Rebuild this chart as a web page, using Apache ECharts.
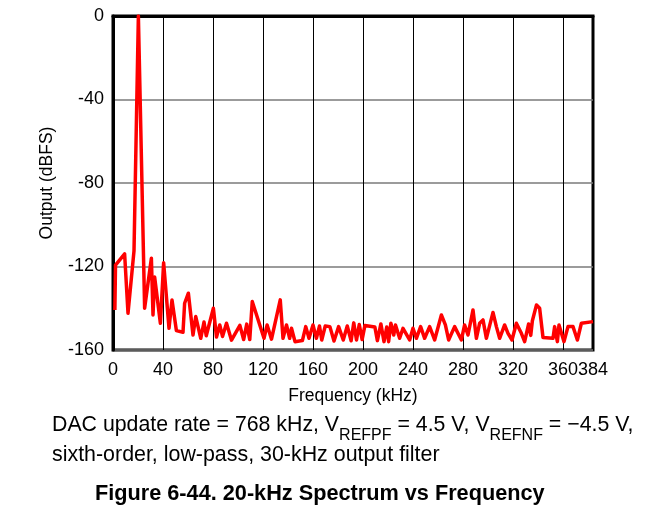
<!DOCTYPE html>
<html>
<head>
<meta charset="utf-8">
<script src="https://cdn.jsdelivr.net/npm/echarts@6/dist/echarts.min.js"></script>
<style>
  html, body { margin: 0; padding: 0; background: #fff; }
  #chart { width: 653px; height: 513px; }
</style>
</head>
<body>
<div id="chart"></div>
<script>
// Output spectrum of a 20-kHz tone: frequency (kHz) and level (dBFS)
const freqs = [
  1.5, 2.0, 9.3, 12.0, 13.5, 16.8, 20.3, 25.3, 30.7, 32.0, 33.3, 37.9, 40.5, 44.8, 47.2, 50.7,
  56.0, 57.3, 60.3, 64.0, 66.2, 70.2, 72.8, 74.6, 80.3, 82.8, 85.4, 87.6, 90.8, 94.8,
  101.5, 104.5, 107.0, 109.4, 111.4, 120.8, 123.3, 126.8, 133.8, 136.0, 138.8, 141.3, 142.8, 145.6,
  151.5, 154.2, 156.8, 160.0, 162.7, 165.2, 167.0, 169.8, 173.5, 176.8, 180.5, 184.2, 187.4, 190.5,
  192.6, 194.8, 197.0, 199.3, 201.5, 209.5, 211.5, 214.3, 216.8, 219.0, 220.5, 222.3, 224.6, 226.0,
  229.3, 232.0, 237.3, 240.0, 242.7, 246.1, 249.3, 253.3, 257.3, 262.7, 265.9, 268.5, 273.3, 278.7,
  281.3, 284.0, 288.0, 290.7, 293.3, 296.0, 298.7, 304.0, 306.7, 309.3, 313.3, 316.0, 319.2, 322.7,
  326.7, 329.3, 332.5, 334.2, 335.5, 338.8, 341.3, 344.0, 352.0, 353.3, 355.5, 356.8, 360.8, 364.0,
  368.0, 371.5, 374.7, 376.0, 384.0
];
const levels = [
  -140.8, -119.3, -114.0, -142.4, -141.6, -112.5, 0, -140.0, -116.0, -143.2, -125.0, -147.2, -118.2, -149.6, -136.0, -150.7,
  -151.5, -137.6, -132.8, -152.8, -144.0, -154.4, -146.6, -153.2, -140.0, -153.8, -148.0, -153.5, -147.2, -155.3,
  -148.2, -155.0, -147.6, -155.0, -136.8, -154.4, -148.0, -154.8, -136.0, -154.4, -148.0, -154.4, -149.6, -156.0,
  -155.5, -148.8, -154.4, -148.0, -154.4, -148.5, -155.2, -148.5, -148.8, -155.7, -148.8, -155.2, -148.5, -155.6,
  -147.0, -155.2, -147.8, -155.0, -148.3, -149.0, -155.5, -147.5, -156.0, -149.0, -156.0, -147.2, -152.8, -148.0,
  -154.4, -149.6, -155.2, -149.6, -154.4, -148.8, -154.4, -148.8, -155.2, -143.2, -148.0, -155.2, -148.8, -155.2,
  -148.0, -152.8, -140.8, -154.4, -147.2, -145.6, -154.4, -142.0, -148.8, -154.4, -148.0, -152.0, -155.2, -147.2,
  -152.0, -156.0, -147.5, -153.0, -146.0, -138.4, -140.0, -154.0, -154.4, -148.8, -156.0, -148.0, -156.0, -148.8,
  -148.8, -155.2, -147.2, -146.4, -146.4
];

const xTitle = 'Frequency (kHz)';
const yTitle = 'Output (dBFS)';
const noteLine1 = 'DAC update rate = 768 kHz, V{s|REFPF} = 4.5 V, V{s|REFNF} = \u22124.5 V,';
const noteLine2 = 'sixth-order, low-pass, 30-kHz output filter';
const figTitle = 'Figure 6-44. 20-kHz Spectrum vs Frequency';

const FONT = '"Liberation Sans", Arial, sans-serif';
const points = freqs.map((f, i) => [f, levels[i]]);

const chart = echarts.init(document.getElementById('chart'), null, { renderer: 'canvas' });
chart.setOption({
  animation: false,
  backgroundColor: '#fff',
  grid: {
    left: 113, right: 60, top: 16, bottom: 163,
    show: true, borderColor: '#000', borderWidth: 3, backgroundColor: 'transparent'
  },
  xAxis: {
    type: 'value', min: 0, max: 384, interval: 40,
    name: xTitle, nameLocation: 'middle', nameGap: 37,
    nameTextStyle: { fontFamily: FONT, fontSize: 17.5, color: '#000' },
    axisLine: { show: true, lineStyle: { color: '#000', width: 3 } },
    axisTick: { show: false },
    axisLabel: { fontFamily: FONT, fontSize: 18, color: '#000', margin: 11, showMaxLabel: true, hideOverlap: false },
    splitLine: { show: true, lineStyle: { color: '#000', width: 1 } }
  },
  yAxis: {
    type: 'value', min: -160, max: 0, interval: 40,
    name: yTitle, nameLocation: 'middle', nameGap: 57, nameRotate: 90,
    nameTextStyle: { fontFamily: FONT, fontSize: 17.5, color: '#000' },
    axisLine: { show: true, lineStyle: { color: '#000', width: 3 } },
    axisTick: { show: false },
    axisLabel: { fontFamily: FONT, fontSize: 18, color: '#000', margin: 9 },
    splitLine: { show: true, lineStyle: { color: '#7a7a7a', width: 1.5 } }
  },
  series: [{
    type: 'line',
    data: points,
    showSymbol: false,
    clip: true,
    lineStyle: { color: '#ff0000', width: 3.5, join: 'round' },
    z: 3
  }],
  graphic: [
    {
      type: 'text', left: 52, top: 412,
      style: {
        text: noteLine1, fontFamily: FONT, fontSize: 21.3, fill: '#000', lineHeight: 26,
        rich: { s: { fontFamily: FONT, fontSize: 16, fill: '#000', lineHeight: 16, verticalAlign: 'bottom', padding: [0, 0, -6, 0] } }
      }
    },
    {
      type: 'text', left: 52, top: 445,
      style: { text: noteLine2, fontFamily: FONT, fontSize: 21.4, fill: '#000' }
    },
    {
      type: 'text', left: 95, top: 483,
      style: { text: figTitle, fontFamily: FONT, fontSize: 21.7, fontWeight: 'bold', fill: '#000' }
    }
  ]
});
</script>
</body>
</html>
